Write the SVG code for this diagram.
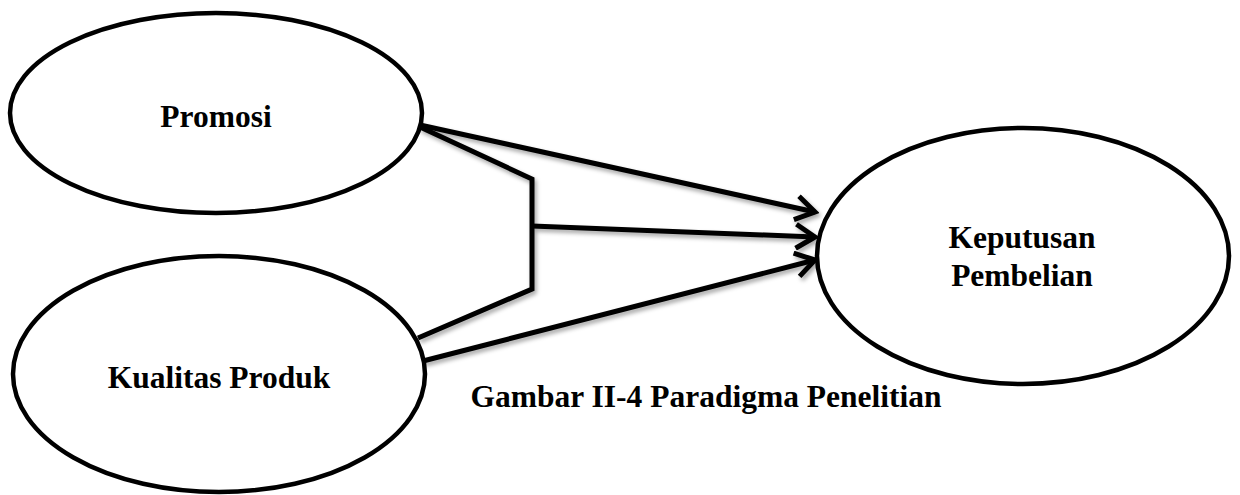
<svg xmlns="http://www.w3.org/2000/svg" width="1240" height="495" viewBox="0 0 1240 495">
<style>
.node{fill:#fff;stroke:#000;stroke-width:4.5}
.lbl{font-family:"Liberation Serif","Times New Roman",serif;font-weight:bold;font-size:31.5px;fill:#000;text-anchor:middle}
.edge{fill:none;stroke:#000;stroke-width:5;stroke-linejoin:miter}
</style>
<defs>
<marker id="arr" markerUnits="userSpaceOnUse" viewBox="-24 -14 28 28" refX="0" refY="0" markerWidth="28" markerHeight="28" orient="auto">
<path d="M -19 -12 L 0 0 L -19 12" fill="none" stroke="#000" stroke-width="5" stroke-linejoin="miter"/>
</marker>
<filter id="sh" x="-10%" y="-10%" width="120%" height="130%">
<feDropShadow dx="2" dy="3" stdDeviation="2" flood-color="#000" flood-opacity="0.35"/>
</filter>
</defs>
<g id="connectors" filter="url(#sh)">
<line class="edge" x1="420" y1="125" x2="815" y2="212" marker-end="url(#arr)"/>
<polyline class="edge" points="420,127 532,179 532,289 418,338"/>
<line class="edge" x1="532" y1="226" x2="815" y2="237" marker-end="url(#arr)"/>
<line class="edge" x1="423" y1="361" x2="815" y2="260" marker-end="url(#arr)"/>
</g>
<g id="promosi">
<ellipse class="node" cx="216" cy="113" rx="206" ry="100"/>
<text class="lbl" x="216" y="127">Promosi</text>
</g>
<g id="kualitas">
<ellipse class="node" cx="219" cy="374" rx="206" ry="118"/>
<text class="lbl" x="219" y="388">Kualitas Produk</text>
</g>
<g id="keputusan">
<ellipse class="node" cx="1023" cy="256" rx="206" ry="128"/>
<text class="lbl" x="1022" y="248">Keputusan</text>
<text class="lbl" x="1022" y="286">Pembelian</text>
</g>
<text id="caption" class="lbl" x="706" y="407">Gambar II-4 Paradigma Penelitian</text>
</svg>
